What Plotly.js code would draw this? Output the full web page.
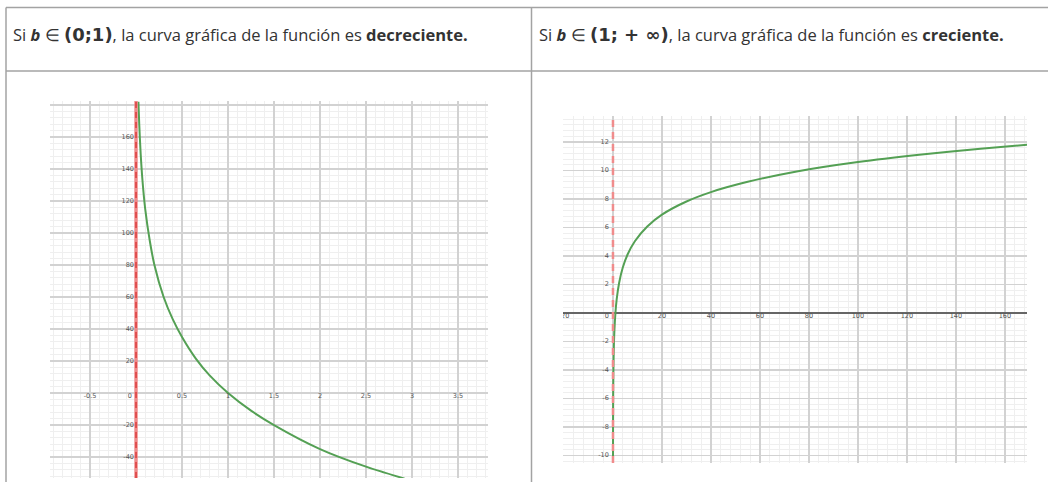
<!DOCTYPE html>
<html>
<head>
<meta charset="utf-8">
<script src="https://cdn.plot.ly/plotly-3.0.1.min.js"></script>
<style>
  html, body { margin: 0; padding: 0; background: #fff; }
  #chart { width: 1048px; height: 482px; }
</style>
</head>
<body>
<div id="chart"></div>
<script>
// Curve y = log_b(x) with b in (0;1): sampled points
const decX = [0.026, 0.035, 0.05, 0.07, 0.1, 0.15, 0.2, 0.3, 0.4, 0.5, 0.65, 0.8, 1, 1.25, 1.5, 2, 2.5, 2.92];
const decY = [182, 168, 150, 133, 115, 95, 80, 60, 46, 35, 21.5, 11, 0, -11, -20, -35, -46, -53.5];

// Curve y = log_b(x) with b > 1: sampled points
const creX = [0.01, 0.03, 0.1, 0.3, 0.6, 1, 1.5, 2.5, 4, 6, 9, 14, 20, 30, 40, 55, 75, 100, 125, 150, 169];
const creY = [-10.6, -8.07, -5.3, -2.77, -1.17, 0, 0.93, 2.1, 3.19, 4.12, 5.05, 6.07, 6.9, 7.82, 8.48, 9.2, 9.93, 10.59, 11.1, 11.52, 11.8];

// Axis tick labels
const decXTicks = [-0.5, 0.5, 1, 1.5, 2, 2.5, 3, 3.5];
const decYTicks = [160, 140, 120, 100, 80, 60, 40, 20, -20, -40];
const creXTicks = [-20, 20, 40, 60, 80, 100, 120, 140, 160];
const creYTicks = [12, 10, 8, 6, 4, 2, -2, -4, -6, -8, -10];

// Vertical asymptote of both curves
const asymptoteX = 0;

const mathStyle = 'font-size:18px;font-family:DejaVu Sans';
const headerLeft = 'Si <b><i>b</i></b> ∈ <b><span style="' + mathStyle + '">(0;1)</span></b>, la curva gráfica de la función es <b>decreciente.</b>';
const headerRight = 'Si <b><i>b</i></b> ∈ <b><span style="' + mathStyle + '">(1; + ∞)</span></b>, la curva gráfica de la función es <b>creciente.</b>';

const W = 1048, H = 482;
const px = v => v / W;
const py = v => 1 - v / H;

const curveColor = 'rgb(84,160,84)';
const labelFont = { family: 'DejaVu Sans, sans-serif', size: 6.5, color: '#555' };

function fmt(v) { return String(v); }

const traces = [
  // left panel
  { x: decX, y: decY, xaxis: 'x', yaxis: 'y', mode: 'lines',
    line: { color: curveColor, width: 2, shape: 'spline', smoothing: 0.8 }, hoverinfo: 'skip' },
  { x: decXTicks, y: decXTicks.map(() => 0), xaxis: 'x', yaxis: 'y', mode: 'text',
    text: decXTicks.map(fmt), textposition: 'bottom center', textfont: labelFont, hoverinfo: 'skip' },
  { x: decYTicks.map(() => asymptoteX), y: decYTicks, xaxis: 'x', yaxis: 'y', mode: 'text',
    text: decYTicks.map(v => fmt(v) + ' '), textposition: 'middle left', textfont: labelFont, hoverinfo: 'skip' },
  { x: [0], y: [0], xaxis: 'x', yaxis: 'y', mode: 'text', text: ['0  '],
    textposition: 'bottom left', textfont: labelFont, hoverinfo: 'skip' },
  // right panel
  { x: creX, y: creY, xaxis: 'x2', yaxis: 'y2', mode: 'lines',
    line: { color: curveColor, width: 2, shape: 'spline', smoothing: 0.8 }, hoverinfo: 'skip' },
  { x: creXTicks, y: creXTicks.map(() => 0), xaxis: 'x2', yaxis: 'y2', mode: 'text',
    text: creXTicks.map(fmt), textposition: 'bottom center', textfont: labelFont, hoverinfo: 'skip' },
  { x: creYTicks.map(() => asymptoteX), y: creYTicks, xaxis: 'x2', yaxis: 'y2', mode: 'text',
    text: creYTicks.map(v => fmt(v) + '  '), textposition: 'middle left', textfont: labelFont, hoverinfo: 'skip' },
  { x: [0], y: [0], xaxis: 'x2', yaxis: 'y2', mode: 'text', text: ['0  '],
    textposition: 'bottom left', textfont: labelFont, hoverinfo: 'skip' }
];

const majorGrid = '#d2d2d2';
const minorGrid = '#efefef';

function axis(domain, range, dtick, minorDtick, extra) {
  return Object.assign({
    domain: domain, range: range, dtick: dtick, tick0: 0,
    showgrid: true, gridcolor: majorGrid, gridwidth: 1.4,
    minor: { dtick: minorDtick, showgrid: true, gridcolor: minorGrid, gridwidth: 1, ticks: '' },
    showticklabels: false, ticks: '', zeroline: false, showline: false, fixedrange: true
  }, extra || {});
}

const border = '#a3a3a3';
const shapes = [
  // table borders
  { type: 'line', xref: 'paper', yref: 'paper', x0: px(6), x1: 1, y0: py(7.5), y1: py(7.5), line: { color: border, width: 1.5 } },
  { type: 'line', xref: 'paper', yref: 'paper', x0: px(6), x1: 1, y0: py(71), y1: py(71), line: { color: border, width: 1.5 } },
  { type: 'line', xref: 'paper', yref: 'paper', x0: px(6), x1: px(6), y0: py(7.5), y1: 0, line: { color: border, width: 1.5 } },
  { type: 'line', xref: 'paper', yref: 'paper', x0: px(531.5), x1: px(531.5), y0: py(7.5), y1: 0, line: { color: border, width: 1.5 } },
  // asymptote, left panel
  { type: 'line', xref: 'x', yref: 'y domain', x0: asymptoteX, x1: asymptoteX, y0: 0, y1: 1,
    line: { color: 'rgba(240,130,130,0.9)', width: 3.5 } },
  { type: 'line', xref: 'x', yref: 'y domain', x0: asymptoteX, x1: asymptoteX, y0: 0, y1: 1,
    line: { color: 'rgb(220,60,60)', width: 1.5, dash: '6px,4px' } },
  // asymptote, right panel
  { type: 'line', xref: 'x2', yref: 'y2 domain', x0: asymptoteX, x1: asymptoteX, y0: 0, y1: 1,
    line: { color: 'rgb(240,140,140)', width: 2.5, dash: '7px,5px' } }
];

const headerFont = { family: 'Open Sans, sans-serif', size: 16.5, color: '#333' };
const annotations = [
  { xref: 'paper', yref: 'paper', x: px(11), y: py(35), xanchor: 'left', yanchor: 'middle',
    text: headerLeft, showarrow: false, font: headerFont },
  { xref: 'paper', yref: 'paper', x: px(537), y: py(35), xanchor: 'left', yanchor: 'middle',
    text: headerRight, showarrow: false, font: headerFont }
];

const layout = {
  width: W, height: H, autosize: false,
  margin: { l: 0, r: 0, t: 0, b: 0 },
  paper_bgcolor: '#fff', plot_bgcolor: '#fff',
  showlegend: false,
  xaxis: axis([px(50), px(488)], [-0.935, 3.826], 0.5, 0.1, { anchor: 'y' }),
  yaxis: axis([py(478), py(101)], [-53.1, 182.5], 20, 4, { anchor: 'x' }),
  xaxis2: axis([px(563), px(1027)], [-20.4, 169], 20, 4, { anchor: 'y2' }),
  yaxis2: axis([py(463), py(116)], [-10.53, 13.82], 2, 0.4,
    { anchor: 'x2', zeroline: true, zerolinecolor: '#666', zerolinewidth: 2 }),
  shapes: shapes,
  annotations: annotations
};

Plotly.newPlot('chart', traces, layout, { staticPlot: true, displayModeBar: false });
</script>
</body>
</html>
